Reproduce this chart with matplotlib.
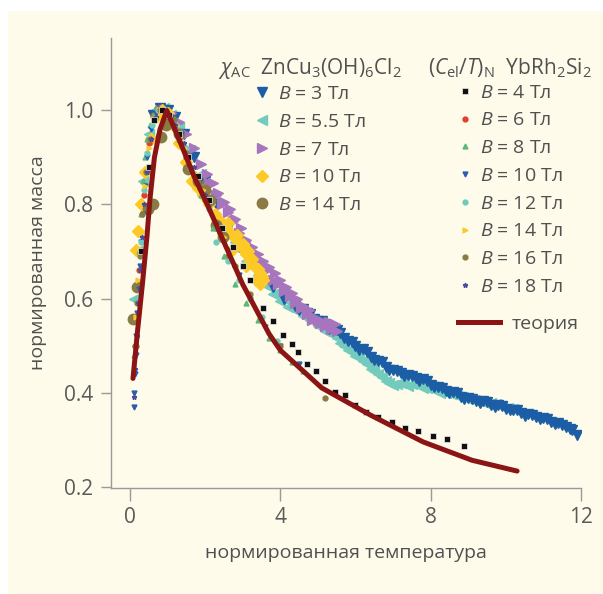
import numpy as np
import matplotlib
matplotlib.use("Agg")
import matplotlib.pyplot as plt
from matplotlib.lines import Line2D
from matplotlib.patches import Rectangle

plt.rcParams['font.family'] = ['Open Sans', 'DejaVu Sans']
plt.rcParams['mathtext.fontset'] = 'custom'
plt.rcParams['mathtext.rm'] = 'Open Sans'
plt.rcParams['mathtext.it'] = 'Open Sans:italic'

# ZnCu3(OH)6Cl2, chi_AC
zn3_x = [0.6, 0.8, 1.0, 1.2, 1.45, 1.7, 2.0, 2.3, 2.6, 2.9, 3.2, 3.5, 3.8, 4.1, 4.4, 4.6, 4.8, 5.0,
         5.2, 5.4, 5.6, 5.8, 6.0, 6.2, 6.4, 6.6, 6.8, 7.0, 7.2, 7.4, 7.6, 7.8, 8.0, 8.2, 8.4, 8.6,
         8.8, 9.0, 9.2, 9.4, 9.6, 9.8, 10.0, 10.2, 10.4, 10.6, 10.8, 11.0, 11.2, 11.4, 11.6, 11.75, 11.9,
         4.5, 4.7, 4.9, 5.1, 5.3, 5.5, 5.7, 5.9, 6.1, 6.3, 6.5, 6.7, 6.9, 7.1, 7.3, 7.5, 7.7, 7.9,
         8.1, 8.3, 8.5, 8.7, 8.9, 9.1, 9.3, 9.5, 9.7, 9.9, 10.1, 10.3, 10.5, 10.7, 10.9, 11.1, 11.3,
         11.5, 11.7]
zn3_y = [0.99, 1.005, 1.0, 0.985, 0.95, 0.9, 0.85, 0.8, 0.75, 0.71, 0.68, 0.65, 0.625, 0.6, 0.585,
         0.578, 0.568, 0.552, 0.545, 0.533, 0.527, 0.51, 0.5, 0.492, 0.476, 0.467, 0.454, 0.449,
         0.441, 0.438, 0.43, 0.428, 0.416, 0.412, 0.403, 0.401, 0.391, 0.389, 0.382, 0.381, 0.374,
         0.373, 0.366, 0.363, 0.356, 0.355, 0.348, 0.346, 0.338, 0.336, 0.326, 0.321, 0.31,
         0.575, 0.57, 0.556, 0.552, 0.535, 0.532, 0.515, 0.508, 0.491, 0.487, 0.47, 0.464, 0.447,
         0.446, 0.436, 0.436, 0.425, 0.424, 0.411, 0.41, 0.399, 0.398, 0.387, 0.387, 0.378, 0.379,
         0.37, 0.371, 0.362, 0.362, 0.351, 0.353, 0.343, 0.343, 0.334, 0.332, 0.322]
zn55_x = [0.12, 0.2, 0.35, 0.5, 0.7, 0.9, 1.1, 1.3, 1.6, 1.9, 2.2, 2.5, 2.8, 3.1, 3.4, 3.7, 3.9, 4.1,
          4.3, 4.5, 4.7, 4.9, 5.1, 5.3, 5.5, 5.7, 5.9, 6.1, 6.3, 6.5, 6.7, 6.9, 7.1, 7.3, 7.5, 7.7,
          7.9, 8.1, 8.4, 8.7, 9.0, 9.3, 9.6, 9.9, 10.2,
          3.55, 3.8, 4.0, 4.2, 4.4, 4.6, 4.8, 5.0, 5.2, 5.4, 5.6, 5.8, 6.0, 6.2, 6.4, 6.6, 6.8, 7.0,
          7.2, 7.4, 7.6, 7.8, 8.0, 8.25, 8.55, 8.85, 9.15, 9.45, 9.75, 10.05]
zn55_y = [0.6, 0.7, 0.85, 0.95, 1.0, 1.005, 0.99, 0.965, 0.915, 0.865, 0.81, 0.76, 0.72, 0.68, 0.65,
          0.625, 0.61, 0.6, 0.59, 0.575, 0.565, 0.552, 0.54, 0.53, 0.515, 0.5, 0.487, 0.475, 0.46,
          0.445, 0.432, 0.42, 0.418, 0.422, 0.418, 0.415, 0.41, 0.405, 0.4, 0.393, 0.386, 0.382,
          0.377, 0.372, 0.366,
          0.635, 0.61, 0.595, 0.582, 0.575, 0.562, 0.555, 0.542, 0.53, 0.522, 0.505, 0.49, 0.478,
          0.468, 0.45, 0.44, 0.425, 0.415, 0.42, 0.414, 0.42, 0.41, 0.412, 0.4, 0.397, 0.39, 0.385,
          0.378, 0.375, 0.368]
zn7_x = [0.9, 1.1, 1.3, 1.5, 1.7, 1.9, 2.05, 2.2, 2.35, 2.5, 2.65, 2.8, 2.95, 3.1, 3.25, 3.4, 3.55,
         3.7, 3.85, 4.0, 4.15, 4.3, 4.45, 4.6, 4.75, 4.9, 5.05, 5.2, 5.35, 5.5,
         2.1, 2.3, 2.45, 2.6, 2.75, 2.9, 3.05, 3.2, 3.35, 3.5, 3.65, 3.8, 3.95, 4.1, 4.25, 4.4, 4.55,
         4.7, 4.85, 5.0, 5.15, 5.3, 5.45]
zn7_y = [1.0, 0.995, 0.975, 0.95, 0.92, 0.885, 0.865, 0.845, 0.825, 0.805, 0.79, 0.77, 0.75, 0.725,
         0.71, 0.695, 0.68, 0.668, 0.655, 0.64, 0.625, 0.612, 0.6, 0.585, 0.575, 0.56, 0.548, 0.542,
         0.535, 0.53,
         0.845, 0.82, 0.8, 0.785, 0.765, 0.74, 0.72, 0.7, 0.685, 0.672, 0.66, 0.64, 0.63, 0.615,
         0.605, 0.59, 0.58, 0.566, 0.555, 0.555, 0.55, 0.55, 0.545]
zn10_x = [0.17, 0.22, 0.3, 0.4, 0.55, 0.7, 0.85, 1.0, 1.15, 1.3, 1.5, 1.65, 1.8, 1.95, 2.1, 2.27,
          2.4, 2.55, 2.65, 2.79, 2.9, 3.0, 3.08, 3.2, 3.3, 3.4, 3.5, 2.75, 3.1, 3.35,
          2.6, 2.85, 3.0, 3.15, 3.25, 3.45, 3.55, 3.45]
zn10_y = [0.703, 0.743, 0.8, 0.87, 0.94, 0.985, 1.0, 0.995, 0.97, 0.93, 0.89, 0.85, 0.835, 0.82,
          0.8, 0.78, 0.765, 0.75, 0.74, 0.728, 0.715, 0.705, 0.695, 0.68, 0.67, 0.662, 0.645,
          0.705, 0.67, 0.64,
          0.76, 0.735, 0.715, 0.7, 0.685, 0.655, 0.64, 0.63]
zn14_x = [0.07, 0.18, 0.48, 0.62, 0.83, 0.96, 1.1, 1.3, 1.55, 1.8, 2.0, 2.13, 2.3, 2.47]
zn14_y = [0.556, 0.625, 0.79, 0.8, 0.944, 0.97, 0.98, 0.95, 0.875, 0.85, 0.83, 0.81, 0.756, 0.73]

# YbRh2Si2, (C_el/T)_N
yb4_x = [0.3, 0.5, 0.65, 0.85, 1.05, 1.3, 1.55, 1.8, 2.1, 2.45, 2.75, 3.0, 3.2, 3.55, 3.8, 4.08,
         4.31, 4.47, 4.7, 4.95, 5.2, 5.45, 5.72, 6.0, 6.28, 6.6, 6.96, 7.31, 7.66, 8.05, 8.43, 8.9]
yb4_y = [0.7, 0.88, 0.98, 1.0, 0.99, 0.95, 0.9, 0.86, 0.81, 0.75, 0.71, 0.67, 0.64, 0.58, 0.552,
         0.523, 0.503, 0.486, 0.46, 0.445, 0.425, 0.402, 0.394, 0.374, 0.358, 0.347, 0.337, 0.325,
         0.318, 0.307, 0.302, 0.286]
yb6_x = [0.15, 0.25, 0.38, 0.5, 0.6, 0.72, 0.88, 1.05, 1.25, 1.5, 1.75, 2.0, 2.3, 2.6]
yb6_y = [0.5, 0.66, 0.82, 0.93, 0.99, 1.005, 1.0, 0.985, 0.95, 0.9, 0.855, 0.81, 0.75, 0.69]
yb8_x = [0.12, 0.18, 0.24, 0.3, 0.35, 0.4, 0.45, 0.52, 0.6, 0.7, 0.85, 1.0, 1.3, 1.6, 1.9, 2.2, 2.5,
         2.8, 3.1, 3.4, 3.7, 4.0, 4.3, 4.6]
yb8_y = [0.48, 0.6, 0.7, 0.78, 0.85, 0.9, 0.94, 0.97, 0.99, 1.005, 1.0, 0.99, 0.94, 0.88, 0.82, 0.75,
         0.69, 0.63, 0.59, 0.555, 0.515, 0.49, 0.466, 0.445]
yb10_x = [0.1, 0.11, 0.13, 0.15, 0.17, 0.2, 0.23, 0.26, 0.3, 0.34, 0.39, 0.45, 0.55, 0.7, 0.9, 1.1,
          1.35, 1.6, 1.85, 2.1, 2.35, 2.6, 2.9, 3.2, 3.6, 4.0, 4.5]
yb10_y = [0.37, 0.4, 0.44, 0.48, 0.52, 0.57, 0.62, 0.67, 0.72, 0.78, 0.84, 0.9, 0.96, 0.995, 1.0,
          0.985, 0.95, 0.9, 0.85, 0.8, 0.75, 0.7, 0.65, 0.6, 0.54, 0.5, 0.46]
yb12_x = [0.14, 0.2, 0.28, 0.36, 0.45, 0.58, 0.75, 0.95, 1.2, 1.5, 1.8, 2.1, 2.3, 2.6, 2.9, 3.2, 3.5, 3.9]
yb12_y = [0.5, 0.6, 0.72, 0.83, 0.91, 0.97, 1.0, 1.0, 0.97, 0.92, 0.86, 0.79, 0.72, 0.68, 0.64, 0.6,
          0.56, 0.51]
yb14_x = [0.16, 0.22, 0.3, 0.4, 0.5, 0.65, 0.8, 1.0, 1.2, 1.45, 1.7, 1.95, 2.2, 2.5]
yb14_y = [0.56, 0.64, 0.74, 0.84, 0.92, 0.98, 1.0, 1.0, 0.97, 0.92, 0.87, 0.83, 0.78, 0.73]
yb16_x = [0.13, 0.19, 0.26, 0.33, 0.42, 0.52, 0.65, 0.8, 1.0, 1.2, 1.5, 1.8, 2.1, 2.4, 2.8, 3.2, 4.0, 5.2]
yb16_y = [0.5, 0.59, 0.69, 0.78, 0.87, 0.94, 0.98, 1.0, 0.99, 0.96, 0.91, 0.85, 0.8, 0.74, 0.67, 0.61,
          0.5, 0.388]
yb18_x = [0.11, 0.14, 0.18, 0.22, 0.27, 0.32, 0.38, 0.46, 0.56, 0.7, 0.85, 1.0, 1.2, 1.45, 1.7, 2.0, 2.3]
yb18_y = [0.39, 0.45, 0.52, 0.59, 0.66, 0.73, 0.8, 0.87, 0.94, 0.985, 1.0, 0.995, 0.97, 0.93, 0.88,
          0.82, 0.76]

# theory curve
th_x = [0.08, 0.2, 0.33, 0.45, 0.53, 0.65, 0.8, 0.98, 1.4, 1.73, 2.0, 2.5, 3.0, 3.2, 3.7, 4.0, 5.1,
        6.4, 7.8, 9.1, 10.3]
th_y = [0.43, 0.53, 0.63, 0.73, 0.81, 0.9, 0.96, 1.0, 0.92, 0.855, 0.81, 0.72, 0.63, 0.6, 0.525,
        0.49, 0.41, 0.352, 0.295, 0.256, 0.233]

zn_labels = ["3", "5.5", "7", "10", "14"]
yb_labels = ["4", "6", "8", "10", "12", "14", "16", "18"]

W, H = 603, 594
fig = plt.figure(figsize=(W / 100, H / 100), dpi=100)
fig.patches.append(Rectangle((8 / W, 0), 1, 1 - 11 / H, transform=fig.transFigure,
                             facecolor='#fefbea', edgecolor='none', zorder=-10))
ax = fig.add_axes([111 / W, 1 - 488 / H, 470 / W, 450 / H])
ax.patch.set_alpha(0)

zn_series = [(zn55_x, zn55_y, '<', '#72cbbd'), (zn3_x, zn3_y, 'v', '#1c5ea6'),
             (zn7_x, zn7_y, '>', '#a675bd'), (zn10_x, zn10_y, 'D', '#fcc926'),
             (zn14_x, zn14_y, 'o', '#8a7b45')]
for x, y, m, c in zn_series:
    ax.plot(x, y, m, color=c, ms=7.5 if m != 'D' else 6.5, mec=c, zorder=2)

yb_series = [(yb6_x, yb6_y, 'o', '#e0402c'), (yb8_x, yb8_y, '^', '#5cb87a'),
             (yb10_x, yb10_y, 'v', '#2a5cb0'), (yb12_x, yb12_y, 'o', '#6fcabd'),
             (yb14_x, yb14_y, '>', '#f8c92a'), (yb16_x, yb16_y, 'o', '#8a7b45'),
             (yb18_x, yb18_y, '*', '#4b4c9c')]
for x, y, m, c in yb_series:
    ax.plot(x, y, m, color=c, ms=3.5, mec=c, zorder=3)
ax.plot(yb4_x, yb4_y, 's', color='#111111', ms=4, mec='#eeeeee', mew=0.5, zorder=3)

ax.plot(th_x, th_y, '-', color='#8b1515', lw=3.6, solid_capstyle='round', zorder=4)

ax.set_xlim(-0.505, 12.0)
ax.set_ylim(0.197, 1.154)
ax.set_xticks([0, 4, 8, 12])
ax.set_yticks([0.2, 0.4, 0.6, 0.8, 1.0])
ax.set_yticklabels(["0.2", "0.4", "0.6", "0.8", "1.0"])
for s in ['top', 'right']:
    ax.spines[s].set_visible(False)
for s in ['left', 'bottom']:
    ax.spines[s].set_color('#9a9a9a')
    ax.spines[s].set_linewidth(1.0)
ax.tick_params(axis='y', length=7, width=1, color='#9a9a9a', labelcolor='#5a5a5a',
               labelsize=15, pad=6)
ax.tick_params(axis='x', length=9, width=1, color='#9a9a9a', labelcolor='#5a5a5a',
               labelsize=15, pad=5)
ax.set_ylabel("нормированная масса", fontsize=14, color='#505050', labelpad=12)
ax.set_xlabel("нормированная температура", fontsize=14, color='#505050', labelpad=11)

# legends
leg_kw = dict(loc='upper left', bbox_transform=fig.transFigure, frameon=False, fontsize=14,
              title_fontsize=15, handlelength=0.8, handletextpad=0.4, labelspacing=0.5,
              borderpad=0, borderaxespad=0, numpoints=1)

h1 = [Line2D([], [], ls='none', marker=m, color=c, ms=7.5 if m != 'D' else 6.5)
      for (_, _, m, c) in [zn_series[1], zn_series[0], zn_series[2], zn_series[3], zn_series[4]]]
l1 = [f"$B$ = {b} Тл" for b in zn_labels]
leg1 = ax.legend(h1, l1, title=r"$\chi_{\rm AC}$  ZnCu$_3$(OH)$_6$Cl$_2$",
                 bbox_to_anchor=(218 / W, 1 - 56 / H), **leg_kw)
leg1._legend_box.sep = 3
leg1.get_title().set_color('#505050')
for t in leg1.get_texts():
    t.set_color('#505050')
ax.add_artist(leg1)

h2 = [Line2D([], [], ls='none', marker='s', color='#111111', ms=4, mec='#eeeeee', mew=0.5)]
h2 += [Line2D([], [], ls='none', marker=m, color=c, ms=3.5) for (_, _, m, c) in yb_series]
l2 = [f"$B$ = {b} Тл" for b in yb_labels]
leg2 = ax.legend(h2, l2, title=r"$(C_{\rm el}/T)_{\rm N}$  YbRh$_2$Si$_2$",
                 bbox_to_anchor=(428 / W, 1 - 56 / H), **leg_kw)
leg2._legend_box.sep = 3
leg2.get_title().set_color('#505050')
for t in leg2.get_texts():
    t.set_color('#505050')
ax.add_artist(leg2)

h3 = [Line2D([], [], color='#8b1515', lw=3.6)]
leg3 = ax.legend(h3, ["теория"], loc='upper left', bbox_to_anchor=(458 / W, 1 - 315 / H),
                 bbox_transform=fig.transFigure, frameon=False, fontsize=14,
                 handlelength=2.15, handletextpad=0.6, borderpad=0, borderaxespad=0)
for t in leg3.get_texts():
    t.set_color('#505050')

fig.savefig("out.png", dpi=100, facecolor='white')
